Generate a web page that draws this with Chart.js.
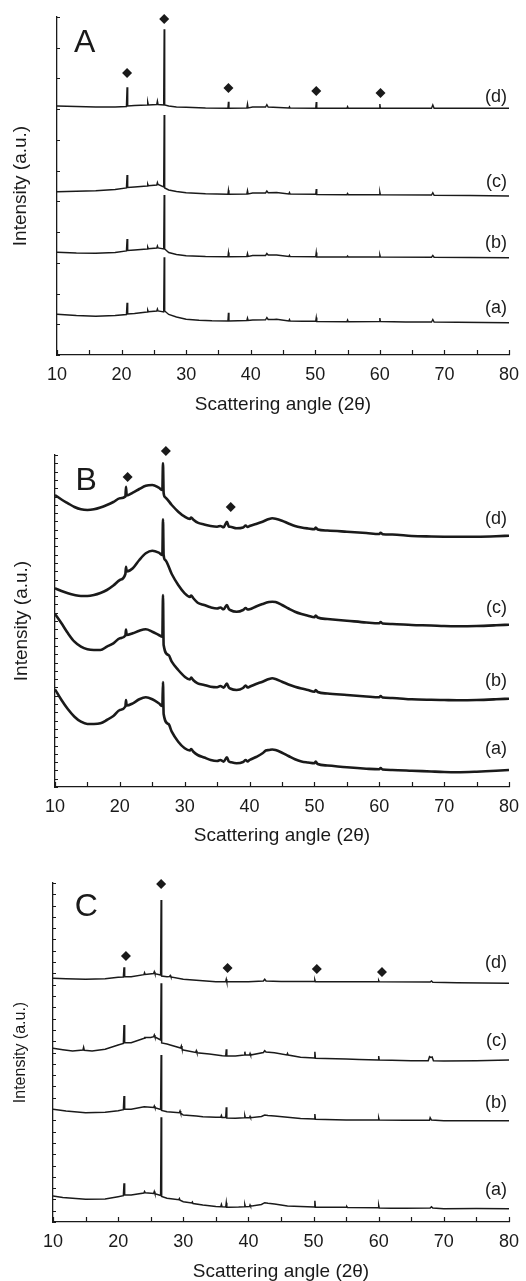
<!DOCTYPE html>
<html>
<head>
<meta charset="utf-8">
<script src="https://cdn.jsdelivr.net/npm/chart.js@4.4.1/dist/chart.umd.min.js"></script>
<style>
  body { margin: 0; background: #fff; }
  canvas { display: block; }
</style>
</head>
<body>
<canvas id="panelA" width="526" height="418"></canvas>
<canvas id="panelB" width="526" height="430"></canvas>
<canvas id="panelC" width="526" height="433"></canvas>
<script>
// XRD patterns, [2theta, intensity a.u.]
const A_a = [[10,40.7],[13,39.5],[16,38.8],[19,39.5],[20.75,40.5],[20.85,52.3],[20.95,41],[22,41.5],[23.95,43],[24.05,45],[24.15,43.3],[25.45,44],[25.55,46],[25.65,44],[26.52,43],[26.6,97.7],[26.68,44],[27.3,40.5],[28.5,38],[30,35.7],[32,34.8],[34,34.2],[36.47,34],[36.55,42.3],[36.63,34],[39.4,34.5],[39.5,37],[39.6,34.5],[40.3,35],[42.3,35.2],[42.5,37.5],[42.7,35.5],[43.6,35.5],[44,35.8],[45.9,34],[46,35.5],[46.1,34],[48,33.7],[50.07,34],[50.15,37.5],[50.23,33.5],[54.9,33.3],[55,35],[55.1,33.3],[59.92,33.5],[60,37],[60.08,33.5],[64,33],[68,33],[68.2,35.5],[68.4,33],[72,32.8],[76,32.5],[80,32.3]];
const A_b = [[10,102.7],[13,102],[16,101.8],[19,102.5],[20.75,104],[20.85,116],[20.95,104.5],[22,105],[23.95,106],[24.05,108],[24.15,106.3],[25.45,107],[25.55,109],[25.65,107],[26.52,106],[26.6,160],[26.68,106],[27.3,102.5],[28.5,100.5],[30,99.3],[33,98.5],[36.47,98.2],[36.55,102.5],[36.63,98.2],[39.4,98.5],[39.5,101.5],[39.6,98.5],[40.3,99.5],[42.3,99.5],[42.5,101.5],[42.7,100],[44,100],[45.9,98.5],[46,99.8],[46.1,98.5],[50.07,98.3],[50.15,102.5],[50.23,98],[54.9,98],[55,99],[55.1,98],[59.92,98],[60,100],[60.08,98],[68,97.8],[68.2,99.5],[68.4,97.8],[74,97.5],[80,97.3]];
const A_c = [[10,163.3],[13,163.8],[16,164.3],[19,165.5],[20.75,167],[20.85,180],[20.95,167.5],[22,168],[23.95,169],[24.05,171],[24.15,169.3],[25.45,170],[25.55,172.5],[25.65,170.5],[26.52,168],[26.6,240],[26.68,167],[27.3,165],[28.5,163.5],[30,162.3],[33,161.3],[36.47,160.7],[36.55,164.8],[36.63,160.7],[39.4,161],[39.5,164.5],[39.6,161],[40.3,162],[42.3,162],[42.5,164],[42.7,162.3],[44,162.5],[45.9,161],[46,162.5],[46.1,161],[50.07,160.8],[50.15,166],[50.23,160.5],[54.9,160.3],[55,161.5],[55.1,160.3],[59.92,160.3],[60,162.8],[60.08,160.3],[68,160],[68.2,162.3],[68.4,159.8],[74,159.5],[80,159]];
const A_d = [[10,249],[13,248.5],[16,248],[19,248],[20.75,248.5],[20.85,267.7],[20.95,249],[22,249.5],[23.95,250],[24.05,253],[24.15,250],[25.45,250.5],[25.55,254],[25.65,250.5],[26.52,250],[26.6,325.7],[26.68,250],[27.3,249],[28.5,248],[30,247.7],[33,247],[36.47,246.7],[36.55,253.3],[36.63,246.7],[39.4,247],[39.5,251],[39.6,247],[40.3,248],[42.3,248],[42.5,250.3],[42.7,248],[45.9,247],[46,248.3],[46.1,247],[50.07,246.8],[50.15,253],[50.23,246.7],[54.9,246.7],[55,248.3],[55.1,246.7],[59.92,246.7],[60,251],[60.08,246.7],[68,246.7],[68.2,250],[68.4,246.7],[74,246.7],[80,246.7]];

const B_a = [[10,97.7],[11,87],[12,77.7],[13,70.3],[14,65.3],[15,63],[16,63],[17,63.7],[18,67],[19,71],[20,77],[20.85,80.5],[20.95,87],[21.05,81.5],[22,83.7],[23,87.7],[24,89.7],[25,87.7],[26,83.7],[26.55,81],[26.65,105],[26.75,73],[27.5,63],[28,55.3],[29,45.3],[30,38.7],[30.8,36.5],[31,38],[31.3,35.5],[32,32],[33,29.5],[34,27],[35,26],[35.5,27],[36,25.3],[36.5,29.7],[36.8,25.5],[37,25],[38,23.7],[39,25],[39.4,27],[39.7,25.5],[40,27],[41,30],[42,33.7],[42.5,36.5],[43,37],[43.5,37.5],[44,37],[45,34.3],[46,31],[47,27.7],[48,25.5],[49,24.5],[50,23.7],[50.2,25.5],[50.5,23],[52,21.5],[55,19.7],[58,18.3],[60,17.7],[60.2,19],[60.5,17.5],[62,17],[65,16.3],[68,15.5],[70,15],[72,14.8],[75,15.3],[78,16.2],[80,17]];
const B_b = [[10,173],[11,163.7],[12,153.7],[13,145.3],[14,140.3],[15,137.7],[16,137],[17,137],[18,140.3],[19,143.7],[20,148.7],[20.85,151.5],[20.95,157.5],[21.05,152],[22,153.7],[23,156.3],[24,157.7],[25,155.3],[26,152],[26.55,150.3],[26.65,192],[26.75,142],[27.5,132],[28,125.3],[29,117],[30,110.3],[30.8,107.5],[31,109.5],[31.3,107],[32,103.7],[33,102],[34,100.3],[35,99.8],[35.5,101],[36,99.3],[36.5,103.5],[36.8,99.5],[37,98.5],[38,97],[39,99],[39.4,101.5],[39.7,99.5],[40,100.3],[41,103],[42,105.3],[43,108],[43.5,108.7],[44,108],[45,105.3],[46,102.5],[47,100.3],[48,98.5],[49,97],[50,95.3],[50.2,97],[50.5,95],[52,93.5],[55,92],[58,90.5],[60,89.7],[60.2,91],[60.5,89.5],[62,89],[65,87.7],[68,87.2],[70,87],[72,86.8],[75,87],[78,87.7],[80,88.3]];
const B_c = [[10,198.7],[11,196],[12,193.7],[13,192],[14,191],[15,191],[16,192],[17,194],[18,197],[19,201.5],[20,207],[20.85,213],[20.95,220.3],[21.05,215.5],[22,218.7],[23,227],[24,233.7],[25,236.3],[26,234.3],[26.55,232],[26.65,267.7],[26.75,232],[27,227],[28,213],[29,202],[30,193.7],[30.8,190],[31,191.5],[31.3,189],[32,184.3],[33,182],[34,179.7],[35,178.5],[35.5,179.5],[36,177.7],[36.5,182],[36.8,178],[37,177],[38,175.3],[39,177],[39.4,179],[39.7,177.5],[40,177.7],[41,180.5],[42,183],[43,185],[43.5,185.3],[44,185],[45,182],[46,178.5],[47,175.3],[48,173],[49,171.3],[50,169.7],[50.2,171.5],[50.5,169.5],[52,168],[55,166.3],[58,164.5],[60,163.7],[60.2,165],[60.5,163.5],[62,163],[65,162],[68,161.5],[70,161],[72,160.8],[75,161],[78,161.7],[80,162.3]];
const B_d = [[10,292],[11,287.5],[12,283.7],[13,280],[14,277.7],[15,277],[16,277.7],[17,279.5],[18,282],[19,285],[20,288.7],[20.85,290.5],[20.95,300.3],[21.05,291.5],[22,294.3],[23,298],[24,301.3],[25,302],[26,299.3],[26.55,297],[26.65,323.7],[26.75,294],[27,289.7],[28,282],[29,275.3],[30,270.3],[30.8,268],[31,269.5],[31.3,267.5],[32,264.3],[33,262.5],[34,261],[35,260.3],[35.5,261],[36,259.7],[36.5,265.3],[36.8,260.5],[37,260.3],[38,258.7],[39,259.5],[39.4,261.5],[39.7,260],[40,261],[41,263],[42,265.3],[43,268],[43.5,268.7],[44,268.3],[45,266.3],[46,263.5],[47,261],[48,259.5],[49,258.5],[50,257.7],[50.2,259.5],[50.5,257.5],[52,256.5],[55,255.3],[58,254],[60,253],[60.2,254.3],[60.5,252.8],[62,252.5],[65,251],[68,250.5],[70,250.3],[72,250.2],[75,250.3],[78,250.8],[80,251.3]];

const C_a = [[10,26],[11.5,24.5],[13,23.7],[15,22.7],[18,23],[20,25.3],[20.8,26.3],[20.9,38.7],[21,27],[22,27],[23.95,29],[24.05,30.5],[24.15,29.3],[25.45,28.5],[25.55,30.5],[25.65,28.3],[26.52,26.5],[26.6,104.7],[26.68,25.5],[27.5,23.7],[29.3,22.2],[29.4,23.5],[29.5,21.8],[30,20.3],[31.3,19],[31.4,20],[31.5,18.5],[33,17],[35,15.5],[35.75,15.3],[35.85,17.5],[35.95,15.2],[36.52,15],[36.6,19.3],[36.68,14.8],[37,14.7],[38.5,15],[39.37,15.3],[39.45,17.3],[39.53,15.3],[40.17,15.5],[40.25,17],[40.33,15.8],[42,17.5],[42.5,19.3],[43,18.8],[44,18],[46,16],[48,15.5],[50.12,15],[50.2,21.3],[50.28,14.8],[52,14.7],[55,14.7],[55.1,15.5],[55.2,14.6],[59.92,14.3],[60,16.5],[60.08,14],[62,13.7],[64,13.7],[67.9,14],[68.1,15.3],[68.3,14],[70,13.3],[75,13.5],[80,13.3]];
const C_b = [[10,112.7],[12,111],[15,109.3],[18,109.8],[20,111.3],[20.8,112.3],[20.9,126],[21,113],[22,112.7],[24,115.3],[25.45,114.5],[25.55,116],[25.65,114.3],[26.52,112.5],[26.6,167],[26.68,111.5],[27.5,110.3],[29.4,109.3],[29.5,111],[29.6,108.8],[30,107],[32,106],[33,105.3],[35,104.7],[35.75,104.7],[35.85,106.5],[35.95,104.5],[36.52,104.5],[36.6,114.7],[36.68,104],[38,103.7],[39.37,104.3],[39.45,106.3],[39.53,104.3],[40.17,104.3],[40.25,105.5],[40.33,104.3],[42,105.5],[42.5,107],[43,106.5],[44,106],[46,104.7],[48,103.5],[50.12,103],[50.2,108],[50.28,102.7],[55,102],[59.92,102],[60,104],[60.08,102],[64,101.7],[67.8,101.8],[67.9,104.3],[68.1,102],[70,101.3],[75,101.3],[80,101.3]];
const C_c = [[10,173.7],[11.5,172.3],[13,171],[14.6,172],[14.7,174.7],[14.8,171.8],[16,171],[18,172.7],[20,177],[20.8,178.5],[20.9,197],[21,179.3],[22,179.3],[23,181.5],[24,183.7],[24.1,184.5],[25,184.5],[25.45,185.3],[25.55,187],[25.65,185],[26.52,182],[26.6,238.7],[26.68,179],[27.5,178],[28,177],[29.6,174],[29.7,176],[29.8,173.3],[30,172],[31.9,169.5],[32,171.3],[32.1,169.3],[34,168],[36,166.3],[36.52,166],[36.6,172.7],[36.68,166],[38,166],[39.37,167],[39.45,170.3],[39.53,167],[40.17,167],[40.25,168.5],[40.33,167],[42.3,169.5],[42.5,171.3],[42.7,170],[44,169.3],[45.9,167],[46,168.5],[46.1,167],[48,164.7],[50.12,164],[50.2,170.3],[50.28,163.7],[55,163],[57,162.5],[59.92,162],[60,166],[60.08,162],[62,161.8],[65,161.3],[67.6,161.3],[67.8,165.3],[68,164.5],[68.2,165],[68.4,161.3],[70,161],[75,161.3],[80,162]];
const C_d = [[10,243.7],[12,243.2],[15,242.7],[18,243.3],[20,244.7],[20.8,245],[20.9,254.7],[21,245.3],[22,245.3],[23.95,247.3],[24.05,249.3],[24.15,247.5],[25.45,248.5],[25.55,250.3],[25.65,248.3],[26.52,247],[26.6,322],[26.68,246],[27.5,245.3],[27.9,245.5],[28,246.5],[28.1,245],[30,242.7],[33,241.3],[35,240.3],[36.52,240.5],[36.6,242.7],[36.68,240.3],[40,240.3],[42.3,241],[42.5,242.7],[42.7,241],[45,240.5],[50.12,240.5],[50.2,242],[50.28,240.3],[55,240.3],[59.92,240.3],[60,241.5],[60.08,240.3],[67.9,240],[68.1,241],[68.3,239.8],[72,239.3],[76,239],[80,238.7]];

// diamond markers over the indexed reflections
const marksA = [[20.85,282],[26.6,336],[36.55,267],[50.15,264],[60.1,262]];
const marksB = [[21.2,310],[27.1,336],[37.1,280]];
const marksC = [[21.2,266],[26.6,338],[36.8,254],[50.5,253],[60.5,250]];

const tags = ['(a)', '(b)', '(c)', '(d)'];
const xTicks = [10, 20, 30, 40, 50, 60, 70, 80];

const ink = '#1a1a1a';
const family = '"Liberation Sans", Arial, sans-serif';
Chart.defaults.font.family = family;
Chart.defaults.color = ink;

// tick marks pointing into the plot
const innerTicks = {
  id: 'innerTicks',
  afterDatasetsDraw(chart) {
    const {ctx, chartArea, scales: {x, y}} = chart;
    ctx.save();
    ctx.strokeStyle = ink;
    ctx.lineWidth = 1.2;
    ctx.beginPath();
    x.ticks.forEach(t => {
      const px = Math.round(x.getPixelForValue(t.value)) + 0.5;
      ctx.moveTo(px, chartArea.bottom);
      ctx.lineTo(px, chartArea.bottom - 5);
    });
    y.ticks.forEach(t => {
      const py = Math.round(y.getPixelForValue(t.value)) + 0.5;
      ctx.moveTo(chartArea.left, py);
      ctx.lineTo(chartArea.left + 3, py);
    });
    ctx.stroke();
    ctx.restore();
  }
};

// panel letter and curve tags
const panelText = {
  id: 'panelText',
  afterDraw(chart, args, opts) {
    const {ctx, scales: {x, y}} = chart;
    ctx.save();
    ctx.fillStyle = ink;
    ctx.textBaseline = 'middle';
    ctx.textAlign = 'center';
    ctx.font = '32px ' + family;
    ctx.fillText(opts.letter, x.getPixelForValue(opts.letterAt[0]), y.getPixelForValue(opts.letterAt[1]));
    ctx.textAlign = 'right';
    ctx.font = '18px ' + family;
    tags.forEach((t, i) => ctx.fillText(t, x.right - 2, y.getPixelForValue(opts.tagY[i])));
    ctx.restore();
  }
};

function panel(id, series, marks, cfg) {
  const lines = series.map(s => ({
    data: s,
    borderColor: ink,
    borderWidth: cfg.lw,
    pointRadius: 0,
    fill: false,
    tension: 0,
    cubicInterpolationMode: cfg.smooth ? 'monotone' : 'default'
  }));
  lines.push({
    data: marks,
    showLine: false,
    pointStyle: 'rectRot',
    pointRadius: 5,
    backgroundColor: ink,
    borderWidth: 0,
    clip: false
  });

  return new Chart(document.getElementById(id), {
    type: 'line',
    data: { datasets: lines },
    options: {
      responsive: false,
      animation: false,
      events: [],
      layout: { padding: { top: cfg.top, right: 17, left: 0, bottom: 0 } },
      plugins: {
        legend: { display: false },
        tooltip: { enabled: false },
        panelText: { letter: cfg.letter, letterAt: cfg.letterAt, tagY: cfg.tagY }
      },
      scales: {
        x: {
          type: 'linear', min: 10, max: 80,
          ticks: {
            stepSize: 5, autoSkip: false, maxRotation: 0, padding: 1,
            font: { size: 18 },
            callback: v => xTicks.includes(v) ? v : ''
          },
          grid: { display: false },
          border: { color: ink, width: 1.3 },
          title: {
            display: true, text: 'Scattering angle (2θ)',
            font: { size: 19, lineHeight: 1 },
            padding: { top: 0, bottom: cfg.xTitlePad }
          },
          afterFit: s => { s.height = cfg.xH; }
        },
        y: {
          type: 'linear', min: 0, max: cfg.yMax,
          ticks: { display: false },
          afterBuildTicks: s => {
            s.ticks = [];
            for (let i = 0; i <= cfg.yDiv; i++) s.ticks.push({ value: i * cfg.yMax / cfg.yDiv });
          },
          grid: { display: false },
          border: { color: ink, width: 1.3 },
          title: {
            display: true, text: 'Intensity (a.u.)',
            font: { size: cfg.yFont, lineHeight: 1 },
            padding: { top: cfg.yTitlePad, bottom: 0 }
          },
          afterFit: s => { s.width = cfg.left; }
        }
      }
    },
    plugins: [innerTicks, panelText]
  });
}

panel('panelA', [A_a, A_b, A_c, A_d], marksA, {
  top: 17, left: 57, xH: 63, xTitlePad: 3.5, yMax: 338, yDiv: 11, yFont: 19, yTitlePad: 11.5, lw: 1.4,
  letter: 'A', letterAt: [14.3, 312], tagY: [47, 112, 173, 258]
});
panel('panelB', [B_a, B_b, B_c, B_d], marksB, {
  top: 37, left: 55, xH: 61, xTitlePad: 2.5, yMax: 332, yDiv: 40, yFont: 19, yTitlePad: 12, lw: 2.6, smooth: true,
  letter: 'B', letterAt: [14.8, 305.5], tagY: [37.7, 106.3, 178.7, 267.7]
});
panel('panelC', [C_a, C_b, C_c, C_d], marksC, {
  top: 35, left: 53, xH: 59, xTitlePad: 0, yMax: 339, yDiv: 30, yFont: 16, yTitlePad: 12.5, lw: 1.5,
  letter: 'C', letterAt: [15.1, 314.5], tagY: [32, 118.7, 181, 258.7]
});
</script>
</body>
</html>
